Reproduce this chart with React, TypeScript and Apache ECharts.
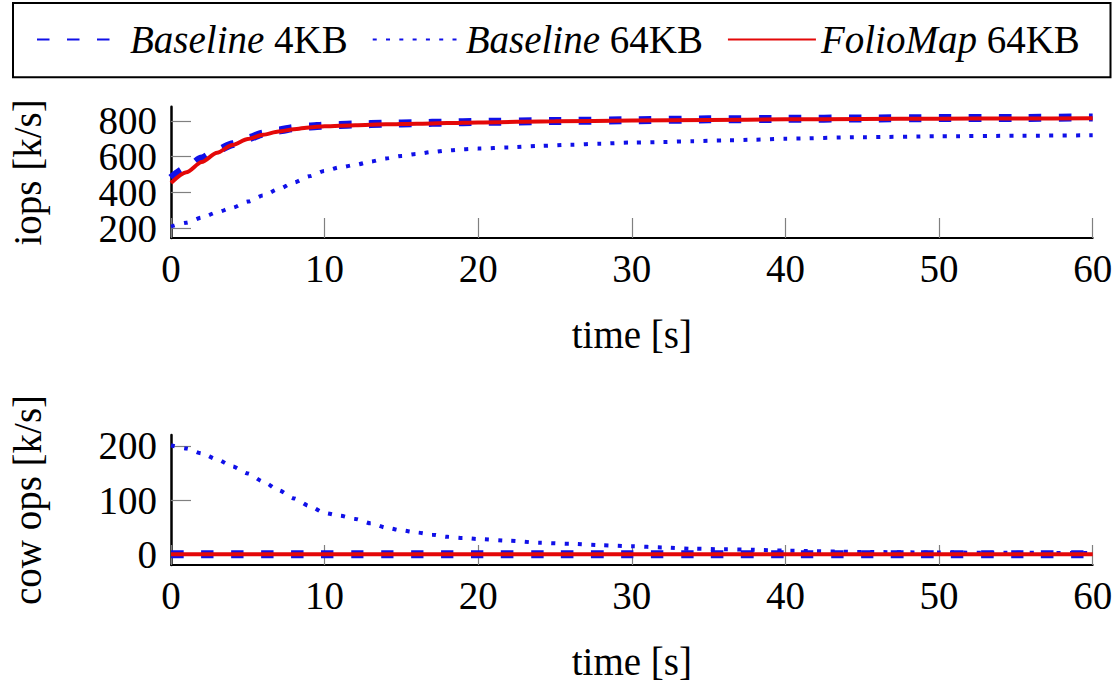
import React, { useEffect, useRef } from "react";
import * as echarts from "echarts";

const FONT = "'Liberation Serif', 'Times New Roman', serif";
const FS = 39;
const BLUE = "rgb(16,16,232)";
const RED = "rgb(228,8,8)";

const seriesNames = ["Baseline 4KB", "Baseline 64KB", "FolioMap 64KB"];
const iopsTicks = [200, 400, 600, 800];
const iopsLabelsA = [200, 600];
const iopsLabelsB = [400, 800];
const cowTicks = [0, 100, 200];

const timeCoarse = [0, 1, 2, 3, 4, 5, 6, 7, 8, 9, 10, 12, 14, 16, 18, 20, 25, 30, 35, 40, 45, 50, 55, 60];
const iops4k = [480, 535, 590, 635, 670, 703, 729, 747, 760, 769, 774, 780, 785, 788, 791, 795, 800, 804, 809, 812, 814, 816, 817, 820];
const iopsFolio = [452, 512, 570, 622, 665, 699, 723, 741, 754, 764, 770, 776, 781, 785, 788, 792, 798, 803, 806, 809, 811, 813, 814, 815];
const cow4k = [0, 0, 0, 0, 0, 0, 0, 0, 0, 0, 0, 0, 0, 0, 0, 0, 0, 0, 0, 0, 0, 0, 0, 0];
const cowFolio = [0, 0, 0, 0, 0, 0, 0, 0, 0, 0, 0, 0, 0, 0, 0, 0, 0, 0, 0, 0, 0, 0, 0, 0];

const timeDense = [0, 1, 2, 3, 4, 5, 6, 7, 8, 9, 10, 11, 12, 13, 14, 15, 16, 17, 18, 19, 20, 22, 24, 26, 28, 30, 32, 34, 36, 38, 40, 45, 50, 55, 60];
const iops64k = [208, 230, 258, 288, 314, 348, 382, 418, 455, 490, 520, 540, 554, 572, 590, 604, 615, 626, 635, 641, 645, 652, 660, 667, 673, 679, 682, 687, 691, 695, 701, 709, 714, 717, 720];
const cow64k = [201, 195, 186, 175, 162, 149, 134, 118, 103, 89, 76, 71, 65, 57, 49, 44, 40, 36, 32, 30, 28, 25, 21, 19, 16.5, 14.5, 12.5, 10, 9, 8, 6.5, 4, 3, 2.5, 2];

const pairs = (xs: number[], ys: number[]) => xs.map((x, i) => [x, ys[i]]);

const styleDashed = { color: BLUE, width: 8, type: [12.5, 17.5] as number[], cap: "butt" as const };
const styleDotted = { color: BLUE, width: 4, type: [4, 9.3] as number[], cap: "butt" as const };
const styleSolid = { color: RED, width: 4, type: "solid" as const };

function makeXAxis(gridIndex: number) {
  return {
    type: "value",
    gridIndex,
    min: 0,
    max: 60,
    interval: 10,
    name: "time [s]",
    nameLocation: "middle",
    nameGap: 77,
    nameTextStyle: { fontFamily: FONT, fontSize: FS, color: "#000" },
    axisLine: { show: true, onZero: false, lineStyle: { color: "#000", width: 2 } },
    axisTick: { show: true, inside: true, length: 20, lineStyle: { color: "#808080", width: 1.2 } },
    axisLabel: { show: true, margin: 11, fontFamily: FONT, fontSize: FS, color: "#000" },
    splitLine: { show: false },
  };
}

function labelStyle(values: number[]) {
  return {
    show: true,
    margin: 14,
    customValues: values,
    fontFamily: FONT,
    fontSize: FS,
    lineHeight: 28,
    color: "#000",
  };
}

function makeYAxis(gridIndex: number, name: string, min: number, max: number, ticks: number[], labels: number[]) {
  return {
    type: "value",
    gridIndex,
    min,
    max,
    name,
    nameLocation: "middle",
    nameGap: 124,
    nameTextStyle: { fontFamily: FONT, fontSize: FS, color: "#000" },
    axisLine: { show: true, onZero: false, lineStyle: { color: "#000", width: 2.5 } },
    axisTick: { show: true, inside: true, length: 20, customValues: ticks, lineStyle: { color: "#808080", width: 1.2 } },
    axisLabel: labelStyle(labels),
    splitLine: { show: false },
  };
}

// Second label row for the top y axis (same scale, labels only), so that the
// tightly packed tick labels are not thinned out.
function makeYLabelAxis(gridIndex: number, min: number, max: number, labels: number[]) {
  return {
    type: "value",
    gridIndex,
    min,
    max,
    position: "left",
    axisLine: { show: false, onZero: false },
    axisTick: { show: false },
    axisLabel: labelStyle(labels),
    splitLine: { show: false },
  };
}

function line(name: string, data: number[][], lineStyle: any, axis: number, z: number) {
  return {
    type: "line",
    name,
    data,
    xAxisIndex: axis,
    yAxisIndex: axis,
    symbol: "none",
    showSymbol: false,
    smooth: 0.25,
    smoothMonotone: "x",
    lineStyle,
    itemStyle: { color: lineStyle.color },
    z,
  };
}

export default function App() {
  const ref = useRef<HTMLDivElement>(null);

  useEffect(() => {
    if (!ref.current) return;
    const chart = echarts.init(ref.current, null, { renderer: "svg" });
    chart.setOption({
      animation: false,
      backgroundColor: "#fff",
      grid: [
        { left: 162.3, top: 106.7, width: 930.4, height: 131.3 },
        { left: 162.3, top: 435, width: 930.4, height: 130 },
      ],
      xAxis: [makeXAxis(0), makeXAxis(1)],
      yAxis: [
        makeYAxis(0, "iops [k/s]", 144, 880, iopsTicks, iopsLabelsA),
        makeYAxis(1, "cow ops [k/s]", -20, 220, cowTicks, cowTicks),
        makeYLabelAxis(0, 144, 880, iopsLabelsB),
      ],
      legend: {
        data: seriesNames,
        left: 36,
        top: 20,
        padding: 0,
        itemWidth: 88,
        itemHeight: 14,
        itemGap: 24,
        itemStyle: { opacity: 0, color: "transparent", borderWidth: 0 },
        textStyle: {
          fontFamily: FONT,
          fontSize: FS,
          color: "#000",
          rich: { it: { fontFamily: FONT, fontSize: FS, fontStyle: "italic", color: "#000" } },
        },
        formatter: (name: string) => {
          const idx = name.indexOf(" ");
          return "{it|" + name.slice(0, idx) + "}" + name.slice(idx);
        },
      },
      graphic: [
        {
          type: "rect",
          shape: { x: 13, y: 3, width: 1097.5, height: 74.3 },
          style: { fill: "none", stroke: "#000", lineWidth: 2 },
          silent: true,
        },
      ],
      series: [
        line(seriesNames[0], pairs(timeCoarse, iops4k), styleDashed, 0, 2),
        line(seriesNames[1], pairs(timeDense, iops64k), styleDotted, 0, 3),
        line(seriesNames[2], pairs(timeCoarse, iopsFolio), styleSolid, 0, 4),
        line(seriesNames[0], pairs(timeCoarse, cow4k), styleDashed, 1, 2),
        line(seriesNames[1], pairs(timeDense, cow64k), styleDotted, 1, 3),
        line(seriesNames[2], pairs(timeCoarse, cowFolio), styleSolid, 1, 4),
      ],
    });
    return () => chart.dispose();
  }, []);

  return (
    <div style={{ position: "absolute", left: 0, top: 0, width: 1117, height: 682, overflow: "hidden", background: "#fff" }}>
      <div ref={ref} style={{ width: 1117, height: 682 }} />
    </div>
  );
}
